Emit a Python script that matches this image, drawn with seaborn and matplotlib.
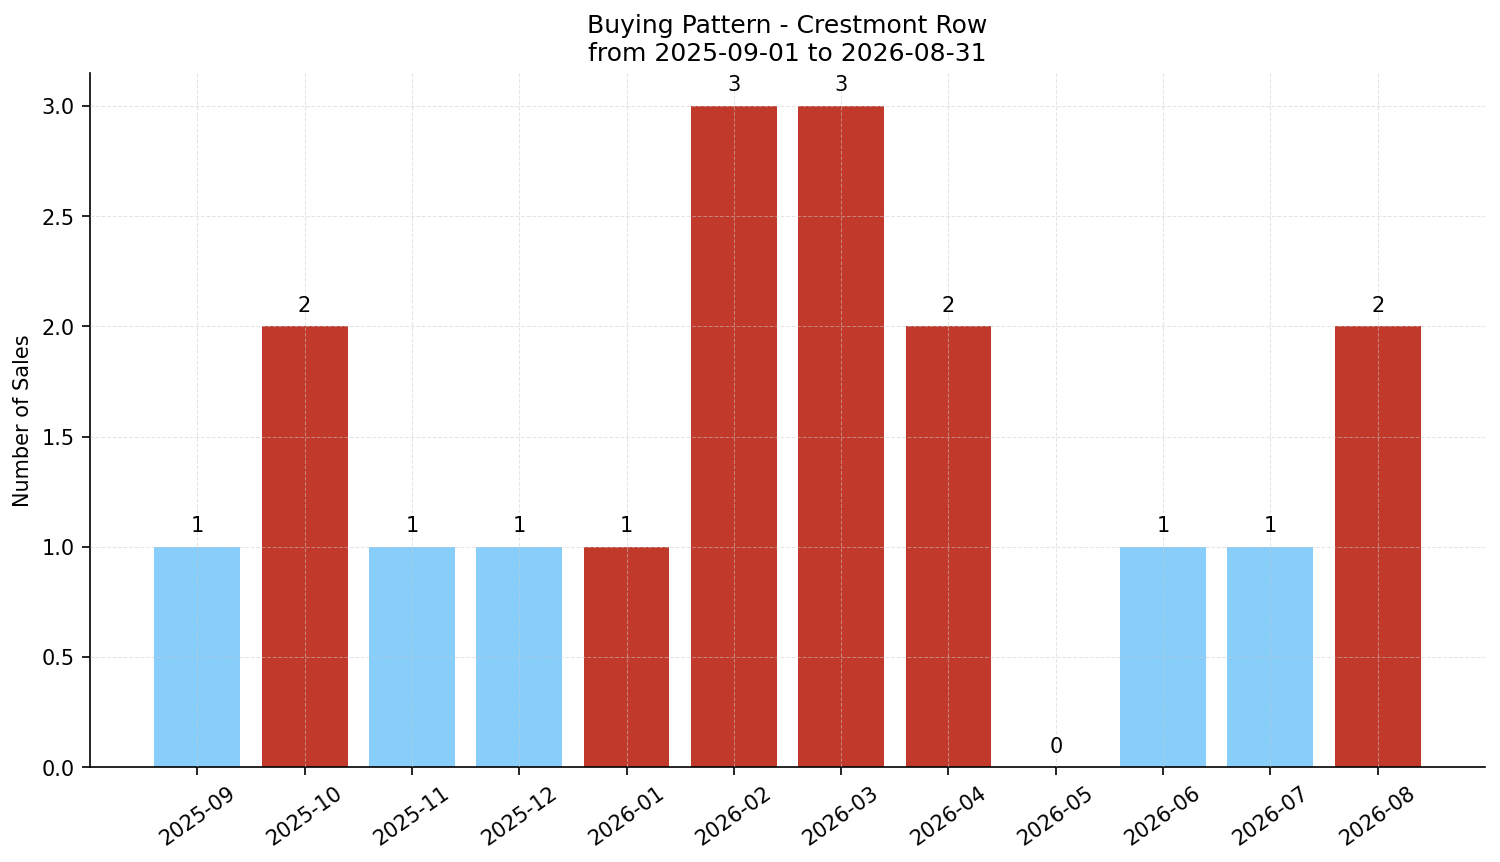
import matplotlib
matplotlib.use("Agg")
import matplotlib.pyplot as plt
import seaborn as sns
import pandas as pd

months = ["2025-09", "2025-10", "2025-11", "2025-12", "2026-01", "2026-02",
          "2026-03", "2026-04", "2026-05", "2026-06", "2026-07", "2026-08"]
sales = [1, 2, 1, 1, 1, 3, 3, 2, 0, 1, 1, 2]
groups = ["low", "high", "low", "low", "high", "high",
          "high", "high", "low", "low", "low", "high"]
palette = {"low": "#87CEFA", "high": "#C0392B"}

sns.set_style("white")
plt.rcParams["font.family"] = ["DejaVu Sans"]
plt.rcParams["text.color"] = "black"
plt.rcParams["axes.labelcolor"] = "black"
plt.rcParams["xtick.color"] = "black"
plt.rcParams["ytick.color"] = "black"

df = pd.DataFrame({"month": months, "sales": sales, "group": groups})

fig, ax = plt.subplots(figsize=(10, 5.75), dpi=150)
sns.barplot(data=df, x="month", y="sales", hue="group", palette=palette,
            dodge=False, legend=False, width=0.8, saturation=1,
            linewidth=0, ax=ax)

for i, v in enumerate(sales):
    ax.text(i, v + 0.05, str(v), ha="center", va="bottom", fontsize=10, color="black")

ax.set_xlim(-1, 12)
ax.set_ylim(0, 3.15)
ax.grid(True, linestyle="--", linewidth=0.5, color="#cccccc", alpha=0.5)
ax.set_axisbelow(False)
for s in ["top", "right"]:
    ax.spines[s].set_visible(False)
for s in ["left", "bottom"]:
    ax.spines[s].set_color("black")
ax.tick_params(axis="both", labelsize=10, length=4, color="black", left=True, bottom=True)
plt.setp(ax.get_xticklabels(), rotation=35, ha="center")
ax.set_xlabel("")
ax.set_ylabel("Number of Sales", fontsize=10)
ax.set_title("Buying Pattern - Crestmont Row\nfrom 2025-09-01 to 2026-08-31", fontsize=12)

fig.subplots_adjust(left=0.06, right=0.99, top=0.915, bottom=0.11)
fig.savefig("out.png", dpi=150)
